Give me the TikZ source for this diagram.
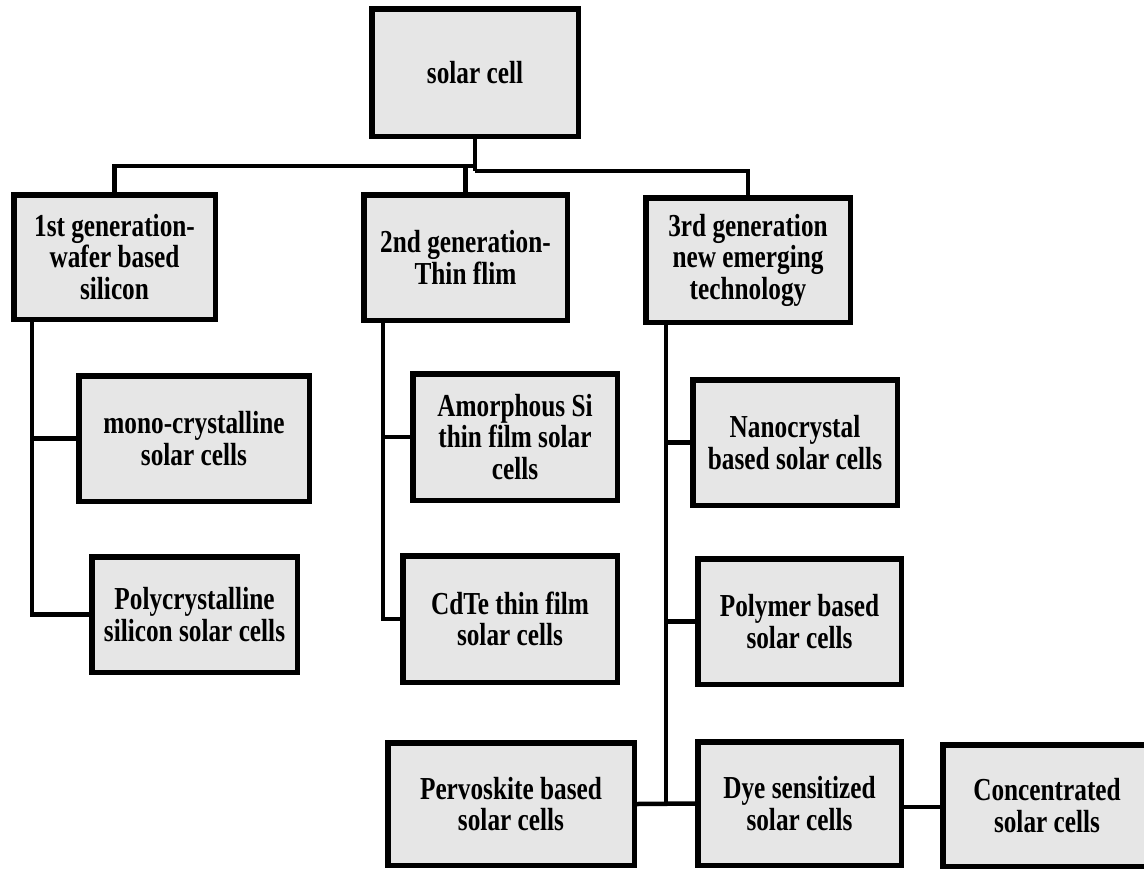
\documentclass[tikz,border=0pt]{standalone}
\usepackage{fontspec}
\setmainfont{Liberation Serif}[FakeStretch=0.79]
\definecolor{boxfill}{RGB}{230,230,230}
\begin{document}
\begin{tikzpicture}[x=1pt,y=-1pt,
  box/.style={draw=black, fill=boxfill, line width=5.5pt, inner sep=0pt,
    align=center, font=\fontsize{32}{31.5}\selectfont\bfseries},
  conn/.style={draw=black, line width=4.5pt}]
\useasboundingbox (0,0) rectangle (1144,871);
\clip (0,0) rectangle (1144,871);
% boxes: minimum size = outer size - line width
\node[box, minimum width=206.5pt, minimum height=127.5pt] (solar) at (475,72.5) {solar cell};
\node[box, minimum width=201.5pt, minimum height=124.5pt] (gen1) at (114.5,257) {1st generation-\\wafer based\\silicon};
\node[box, minimum width=203.5pt, minimum height=125.5pt] (gen2) at (465.5,257.5) {2nd generation-\\Thin flim};
\node[box, minimum width=204.5pt, minimum height=124.5pt] (gen3) at (748,260) {3rd generation\\new emerging\\technology};
\node[box, minimum width=230.5pt, minimum height=125.5pt] (mono) at (194,438.5) {mono-crystalline\\solar cells};
\node[box, minimum width=205.5pt, minimum height=115.5pt] (poly) at (194.5,614.5) {Polycrystalline\\silicon solar cells};
\node[box, minimum width=204.5pt, minimum height=126.5pt] (amor) at (515,437) {Amorphous Si\\thin film solar\\cells};
\node[box, minimum width=214.5pt, minimum height=126.5pt] (cdte) at (510,619) {CdTe thin film\\solar cells};
\node[box, minimum width=204.5pt, minimum height=125.5pt] (nano) at (795,442.5) {Nanocrystal\\based solar cells};
\node[box, minimum width=203.5pt, minimum height=125.5pt] (polym) at (799.5,621.5) {Polymer based\\solar cells};
\node[box, minimum width=246.5pt, minimum height=122.5pt] (pervo) at (511,804) {Pervoskite based\\solar cells};
\node[box, minimum width=203.5pt, minimum height=123.5pt] (dye) at (799.5,803.5) {Dye sensitized\\solar cells};
\node[box, minimum width=208.5pt, minimum height=121.5pt] (conc) at (1047,805.5) {Concentrated\\solar cells};
% junction coordinates
\coordinate (jL) at (475,166);
\coordinate (jR) at (475,171);
\coordinate (v1) at (32,0);
\coordinate (v2) at (383,0);
\coordinate (v3) at (666,0);
\coordinate (cc) at (0,807);
% top tree
\draw[conn] (solar.south) -- (jR);
\draw[conn] (jL) -| (gen1.north);
\draw[conn] (jR) -| (gen3.north);
\draw[conn] (gen2.north) -- (gen2.north |- jL);
% first generation
\draw[conn] (gen1.south -| v1) |- (poly.west);
\draw[conn] (mono.west) -- (mono.west -| v1);
% second generation
\draw[conn] (gen2.south -| v2) |- (cdte.west);
\draw[conn] (amor.west) -- (amor.west -| v2);
% third generation
\draw[conn] (gen3.south -| v3) -- (pervo.east -| v3);
\draw[conn] (nano.west) -- (nano.west -| v3);
\draw[conn] (polym.west) -- (polym.west -| v3);
\draw[conn] (pervo.east) -- (dye.west);
\draw[conn] (dye.east |- cc) -- (conc.west |- cc);
\end{tikzpicture}
\end{document}
